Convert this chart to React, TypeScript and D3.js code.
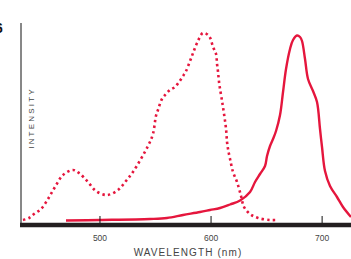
import React from "react";
import * as d3 from "d3";

const excitationWl = [430.7, 436.1, 440.6, 446.9, 453.2, 459.5, 466.7, 475.7, 481.1, 489.2, 496.4, 506.3, 516.2, 523.4, 529.7, 543.2, 547.7, 550.4, 552.2, 555.8, 559.4, 563.0, 567.5, 571.2, 574.8, 577.5, 581.1, 583.8, 587.4, 592.8, 598.2, 601.8, 604.5, 605.4, 606.3, 607.2, 608.1, 609.9, 611.7, 613.5, 614.4, 615.3, 617.1, 619.8, 623.4, 627.0, 629.7, 635.1, 642.3, 653.1, 659.4];
const excitationI = [1, 2, 4, 6.5, 11.5, 17.5, 23.5, 26, 24.5, 20, 15.5, 13.5, 16, 20.5, 25, 38, 44, 53, 56, 61.5, 64, 66, 67.5, 70, 73, 75.5, 80.5, 84.5, 89.5, 94.5, 93, 87.5, 84, 79, 75, 70, 66.5, 60.5, 54, 46.5, 40, 36.5, 31.5, 25, 20, 13, 7.5, 4, 2, 1, 1];

const emissionWl = [469.4, 500.0, 545.0, 560.3, 574.8, 590.1, 599.1, 608.1, 617.1, 626.1, 635.1, 639.6, 644.1, 648.6, 650.4, 653.1, 655.8, 658.5, 662.1, 664.8, 667.5, 671.1, 673.8, 677.4, 680.1, 681.9, 684.6, 687.3, 691.8, 695.4, 698.1, 699.9, 702.6, 707.1, 713.4, 718.8, 726.0];
const emissionI = [0.75, 1, 1.5, 2, 3.5, 5, 6, 7, 8.75, 10.75, 15, 20, 24, 28, 33, 38, 41.5, 45.5, 53.5, 65, 76.5, 86.5, 91, 93.25, 92.5, 90.5, 81.5, 71.5, 65.5, 60, 46.5, 37.5, 25.5, 18, 12.5, 7.5, 2.5];

const xTicks = [500, 600, 700];
const xTitle = "WAVELENGTH (nm)";
const yTitle = "INTENSITY";

const RED = "#e5163d";
const FONT = "'Liberation Sans', Arial, sans-serif";

export default function App() {
  const W = 351, H = 259;
  const x = d3.scaleLinear().domain([428, 726]).range([20, 351]);
  const y = d3.scaleLinear().domain([0, 100]).range([222, 22]);
  const line = d3
    .line<[number, number]>()
    .x((d) => x(d[0]))
    .y((d) => y(d[1]))
    .curve(d3.curveCatmullRom.alpha(0.5));
  const exc = excitationWl.map((w, i) => [w, excitationI[i]] as [number, number]);
  const emi = emissionWl.map((w, i) => [w, emissionI[i]] as [number, number]);

  return (
    <svg
      width={W}
      height={H}
      style={{ position: "absolute", left: 0, top: 0, background: "#fff" }}
    >
      <text x={-5} y={33} fontFamily={FONT} fontWeight="bold" fontSize={14} fill="#111">
        6
      </text>
      <line x1={21} x2={21} y1={23} y2={223} stroke="#111" strokeWidth={1} />
      <path d={line(exc) || ""} fill="none" stroke={RED} strokeWidth={2.6} strokeDasharray="2.4 3.2" />
      <path d={line(emi) || ""} fill="none" stroke={RED} strokeWidth={2.4} />
      <line x1={20} x2={351} y1={225} y2={225} stroke="#231f20" strokeWidth={4.6} />
      {xTicks.map((t) => (
        <g key={t}>
          <line x1={x(t)} x2={x(t)} y1={216} y2={223} stroke="#111" strokeWidth={1} />
          <text x={x(t)} y={241} textAnchor="middle" fontFamily={FONT} fontSize={8.5} fill="#444">
            {t}
          </text>
        </g>
      ))}
      <text
        x={188}
        y={256}
        textAnchor="middle"
        fontFamily={FONT}
        fontSize={10}
        letterSpacing={1.1}
        fill="#444"
      >
        {xTitle}
      </text>
      <text
        transform="translate(34,118) rotate(-90)"
        textAnchor="middle"
        fontFamily={FONT}
        fontSize={8}
        letterSpacing={2.2}
        fill="#444"
      >
        {yTitle}
      </text>
    </svg>
  );
}
